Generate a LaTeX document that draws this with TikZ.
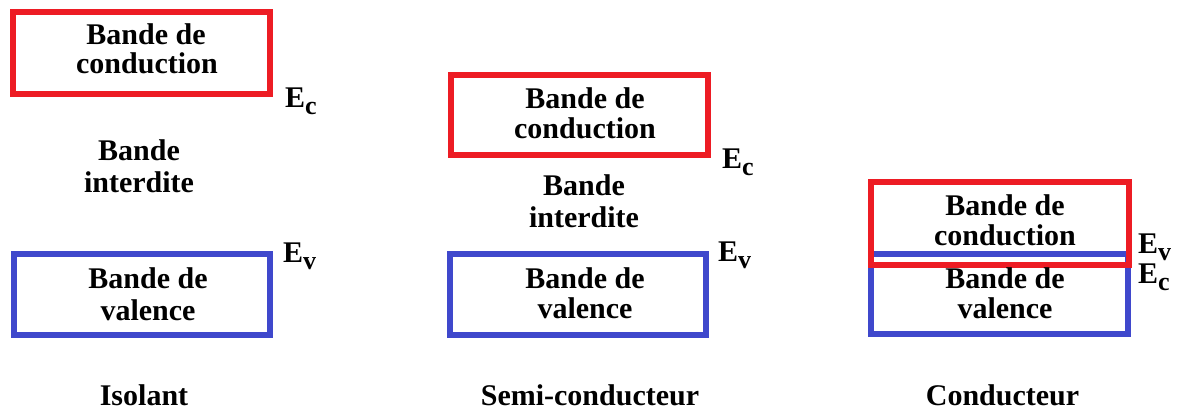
\documentclass[tikz,border=0pt]{standalone}
\usepackage{fontspec}
\setmainfont{Liberation Serif}
\definecolor{bandred}{HTML}{ED1C24}
\definecolor{bandblue}{HTML}{3F48CC}
\newcommand{\Elev}[1]{E\raisebox{-7.5pt}{\fontsize{26}{26}\selectfont #1}}
\begin{document}
\begin{tikzpicture}[x=1pt,y=-1pt,
  lbl/.style={font=\fontsize{30}{30}\selectfont\bfseries, anchor=base, inner sep=0pt},
  lvl/.style={font=\fontsize{30}{30}\selectfont\bfseries, anchor=base west, inner sep=0pt},
  band/.style={draw, line width=6pt, inner sep=0pt, outer sep=0pt, rectangle},
  cband/.style={band, draw=bandred},
  vband/.style={band, draw=bandblue}]
\useasboundingbox (0,0) rectangle (1178,412);
% ---------- Isolant ----------
\node[cband, minimum width=257pt, minimum height=82pt] (ic) at (141.5,53) {};
\node[vband, minimum width=256pt, minimum height=81pt] (iv) at (142,294.5) {};
\node[lbl] (ic1) at (146,45) {Bande de};
\node[lbl] (ic2) at (147,74) {conduction};
\node[lbl] (ig1) at (139,160) {Bande};
\node[lbl] (ig2) at (139,192) {interdite};
\node[lbl] (iv1) at (148,288) {Bande de};
\node[lbl] (iv2) at (148,320) {valence};
\node[lbl] (iname) at (144,405) {Isolant};
\node[lvl] (iec) at (285,107) {\Elev{c}};
\node[lvl] (iev) at (283,262) {\Elev{v}};
% ---------- Semi-conducteur ----------
\node[cband, minimum width=257pt, minimum height=80pt] (sc) at (579.5,115) {};
\node[vband, minimum width=256pt, minimum height=81pt] (sv) at (578,294.5) {};
\node[lbl] (sc1) at (585,108) {Bande de};
\node[lbl] (sc2) at (585,138) {conduction};
\node[lbl] (sg1) at (584,195) {Bande};
\node[lbl] (sg2) at (584,227) {interdite};
\node[lbl] (sv1) at (585,288) {Bande de};
\node[lbl] (sv2) at (585,318) {valence};
\node[lbl] (sname) at (590,405) {Semi-conducteur};
\node[lvl] (sec) at (722,168) {\Elev{c}};
\node[lvl] (sev) at (718,261) {\Elev{v}};
% ---------- Conducteur ----------
\node[vband, minimum width=257pt, minimum height=80pt] (cv) at (999.5,294) {};
\node[cband, minimum width=258pt, minimum height=83pt] (cc) at (1000,223.5) {};
\node[lbl] (cc1) at (1005,215) {Bande de};
\node[lbl] (cc2) at (1005,245) {conduction};
\node[lbl] (cv1) at (1005,288) {Bande de};
\node[lbl] (cv2) at (1005,318) {valence};
\node[lbl] (cname) at (1002.5,405) {Conducteur};
\node[lvl] (cev) at (1138,253) {\Elev{v}};
\node[lvl] (cec) at (1138,283) {\Elev{c}};
\end{tikzpicture}
\end{document}
